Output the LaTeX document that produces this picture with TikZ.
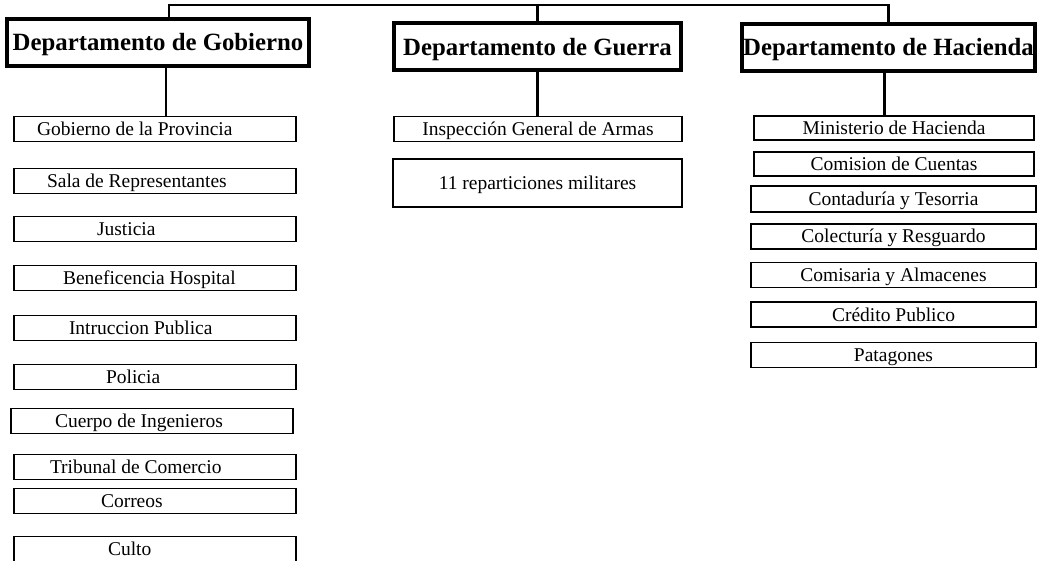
\documentclass[tikz,border=0pt]{standalone}
\usepackage{fontspec}
\setmainfont{Liberation Serif}

\tikzset{
    dept/.style={draw, line width=4pt, inner sep=0pt, minimum height=47pt,
        text height=17pt, text depth=0.6pt,
        font=\fontsize{24.8}{28}\selectfont\bfseries},
    sub/.style={draw, line width=1.9pt, inner sep=0pt, minimum height=25pt,
        text height=13pt, text depth=0pt,
        font=\fontsize{19.5}{22}\selectfont},
    gsub/.style={sub, text width=282pt, align=flush left},
    link/.style={line width=2.7pt},
}

\begin{document}
\begin{tikzpicture}[x=1pt, y=-1pt]
    \useasboundingbox (0,0) rectangle (1043,561);

        % Departments
        \node[dept, minimum width=302pt] (gob) at (158,42.5) {Departamento de Gobierno};
        \node[dept, minimum width=287pt] (gue) at (537.5,47) {Departamento de Guerra};
        \node[dept, minimum width=293pt] (hac) at (888.5,47.5) {Departamento de Hacienda};

        % Top bar joining the three departments
        \coordinate (bus) at (gue.north |- 0,5);
        \draw[link] ([xshift=11pt]gob.north) |- (bus) -| (hac.north);
        \draw[link] (bus) -- (gue.north);

        % Gobierno
        \node[gsub] (prov) at (155,129) {\hspace*{23pt}Gobierno de la Provincia};
        \node[gsub] (sala) at (155,181) {\hspace*{33pt}Sala de Representantes};
        \node[gsub] (just) at (155,229) {\hspace*{83pt}Justicia};
        \node[gsub] (bene) at (155,278) {\hspace*{49pt}Beneficencia Hospital};
        \node[gsub] (intr) at (155,328) {\hspace*{55pt}Intruccion Publica};
        \node[gsub] (poli) at (155,377) {\hspace*{92pt}Policia};
        \node[gsub] (ing)  at (152,421) {\hspace*{44pt}Cuerpo de Ingenieros};
        \node[gsub] (trib) at (155,467) {\hspace*{36pt}Tribunal de Comercio};
        \node[gsub] (corr) at (155,501) {\hspace*{87pt}Correos};
        \node[gsub] (cult) at (155,549) {\hspace*{94pt}Culto};
        \draw[link] ([xshift=8pt]gob.south) -- ([xshift=8pt]gob.south |- prov.north);

        % Guerra
        \node[sub, minimum width=288pt] (insp) at (538,129) {Inspección General de Armas};
        \node[sub, minimum width=289pt, minimum height=48pt] (rep) at (537.5,183) {11 reparticiones militares};
        \draw[link] (gue.south) -- (gue.south |- insp.north);

        % Hacienda
        \node[sub, minimum width=280pt, minimum height=24pt] (mini) at (894,128) {Ministerio de Hacienda};
        \node[sub, minimum width=280pt, minimum height=24pt] (cuen) at (894,164) {Comision de Cuentas};
        \node[sub, minimum width=285pt, minimum height=26pt] (cont) at (893.5,199) {Contaduría y Tesorria};
        \node[sub, minimum width=285pt] (cole) at (893.5,236.5) {Colecturía y Resguardo};
        \node[sub, minimum width=285pt] (comi) at (893.5,275) {Comisaria y Almacenes};
        \node[sub, minimum width=285pt] (cred) at (893.5,314.5) {Crédito Publico};
        \node[sub, minimum width=285pt] (pata) at (893.5,355) {Patagones};
        \draw[link] ([xshift=-4pt]hac.south) -- ([xshift=-4pt]hac.south |- mini.north);

    \end{tikzpicture}
\end{document}
